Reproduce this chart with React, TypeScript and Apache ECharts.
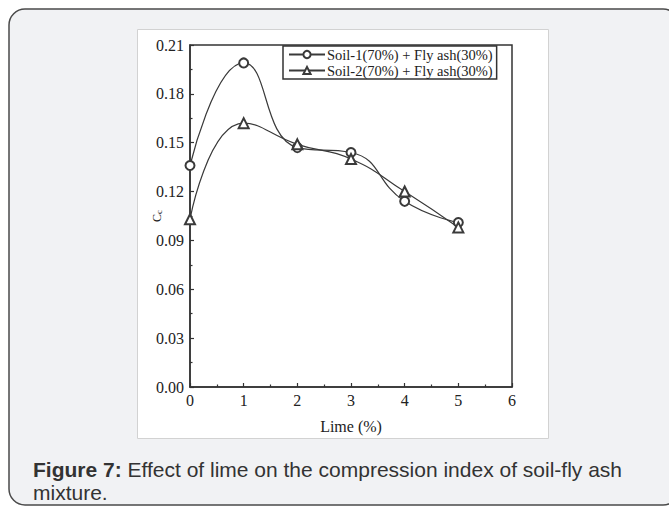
import React, { useEffect, useRef } from "react";
import * as echarts from "echarts";

const limeX = [0, 1, 2, 3, 4, 5];
const soil1 = [0.136, 0.199, 0.147, 0.144, 0.114, 0.101];
const soil2 = [0.103, 0.162, 0.149, 0.14, 0.12, 0.098];
const seriesNames = ["Soil-1(70%) + Fly ash(30%)", "Soil-2(70%) + Fly ash(30%)"];
const xTitle = "Lime (%)";
const captionBold = "Figure 7:";
const captionLine1 = " Effect of lime on the compression index of soil-fly ash";
const captionLine2 = "mixture.";

const SERIF = "'Liberation Serif', 'Times New Roman', serif";
const SANS = "'Liberation Sans', Arial, sans-serif";

export default function App() {
  const ref = useRef<HTMLDivElement>(null);
  useEffect(() => {
    if (!ref.current) return;
    const chart = echarts.init(ref.current, undefined, { renderer: "svg" });
    const mk = (arr: number[]) => limeX.map((x, i) => [x, arr[i]]);
    chart.setOption({
      animation: false,
      backgroundColor: "transparent",
      graphic: [
        {
          type: "rect",
          z: -10,
          silent: true,
          shape: { x: 9, y: 9, width: 670, height: 496, r: 16 },
          style: { fill: "#f1f2f4", stroke: "#4a4a4a", lineWidth: 1.5 },
        },
        {
          type: "rect",
          z: -9,
          silent: true,
          shape: { x: 137.5, y: 29.5, width: 411, height: 409 },
          style: { fill: "#ffffff", stroke: "#d2d2d2", lineWidth: 1 },
        },
        {
          type: "text",
          left: 33,
          top: 459,
          style: {
            text: "{b|" + captionBold + "}{n|" + captionLine1 + "}",
            rich: {
              b: { fontFamily: SANS, fontSize: 21, fontWeight: "bold", fill: "#333" },
              n: { fontFamily: SANS, fontSize: 21, fill: "#333" },
            },
          },
        },
        {
          type: "text",
          left: 33,
          top: 482,
          style: { text: captionLine2, fontFamily: SANS, fontSize: 21, fill: "#333" },
        },
      ],
      grid: {
        left: 190,
        top: 45,
        right: 157,
        bottom: 119,
        show: true,
        borderColor: "#333",
        borderWidth: 1.5,
        backgroundColor: "transparent",
      },
      legend: {
        left: 283,
        top: 46,
        orient: "vertical",
        backgroundColor: "#fff",
        borderColor: "#333",
        borderWidth: 1.5,
        padding: [1, 4, 1, 5],
        itemGap: 1,
        itemWidth: 36,
        itemHeight: 9,
        textStyle: { fontFamily: SERIF, fontSize: 14.5, lineHeight: 14, color: "#222", padding: [0, 0, 0, -3] },
        data: seriesNames,
      },
      xAxis: {
        type: "value",
        min: 0,
        max: 6,
        interval: 1,
        name: xTitle,
        nameLocation: "middle",
        nameGap: 31,
        nameMoveOverlap: false,
        nameTextStyle: { fontFamily: SERIF, fontSize: 16, color: "#222" },
        axisLine: { show: true, lineStyle: { color: "#333", width: 1.5 } },
        axisTick: { show: true, inside: true, length: 4, lineStyle: { color: "#333", width: 1.2 } },
        minorTick: { show: true, splitNumber: 2, length: 2.5, lineStyle: { color: "#333", width: 1.2 } },
        axisLabel: { fontFamily: SERIF, fontSize: 16, color: "#222", margin: 5 },
        splitLine: { show: false },
      },
      yAxis: {
        type: "value",
        min: 0,
        max: 0.21,
        interval: 0.03,
        name: "{a|C}{s|c}",
        nameLocation: "middle",
        nameGap: 27,
        nameMoveOverlap: false,
        nameRotate: 90,
        nameTextStyle: {
          rich: {
            a: { fontFamily: SERIF, fontSize: 12, color: "#222" },
            s: { fontFamily: SERIF, fontSize: 9, color: "#222", verticalAlign: "bottom", padding: [4, 0, 0, 0] },
          },
        },
        axisLine: { show: true, lineStyle: { color: "#333", width: 1.5 } },
        axisTick: { show: true, inside: true, length: 4, lineStyle: { color: "#333", width: 1.2 } },
        minorTick: { show: true, splitNumber: 2, length: 2.5, lineStyle: { color: "#333", width: 1.2 } },
        axisLabel: {
          fontFamily: SERIF,
          fontSize: 16,
          color: "#222",
          margin: 6,
          formatter: (v: number) => v.toFixed(2),
        },
        splitLine: { show: false },
      },
      series: [
        {
          name: seriesNames[0],
          type: "line",
          data: mk(soil1),
          smooth: 0.5,
          symbol: "emptyCircle",
          symbolSize: 9,
          showAllSymbol: true,
          lineStyle: { color: "#3a3a3a", width: 1.2 },
          itemStyle: { color: "#3a3a3a", borderWidth: 1.2 },
          z: 3,
        },
        {
          name: seriesNames[1],
          type: "line",
          data: mk(soil2),
          smooth: 0.5,
          symbol: "emptyTriangle",
          symbolSize: 10,
          showAllSymbol: true,
          lineStyle: { color: "#3a3a3a", width: 1.2 },
          itemStyle: { color: "#3a3a3a", borderWidth: 1.2 },
          z: 3,
        },
      ],
    });
    return () => chart.dispose();
  }, []);
  return (
    <div
      ref={ref}
      style={{ position: "fixed", left: 0, top: 0, width: 669, height: 506, background: "#ffffff" }}
    />
  );
}
